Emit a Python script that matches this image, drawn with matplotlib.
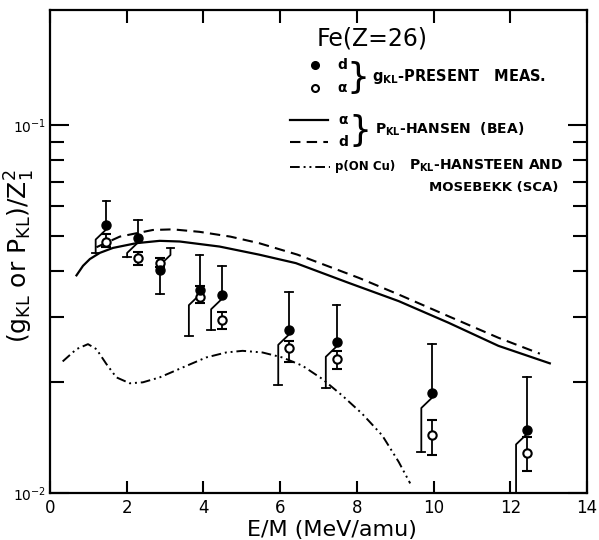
import numpy as np
import matplotlib
matplotlib.use("Agg")
import matplotlib.pyplot as plt
from matplotlib.ticker import FixedLocator, NullFormatter

plt.rcParams["font.family"] = ["DejaVu Sans"]
plt.rcParams["mathtext.default"] = "regular"

# measured g_KL, deuterons (filled) and alphas (open)
x_meas = [1.47, 2.29, 2.86, 3.90, 4.48, 6.23, 7.47, 9.96, 12.43]
d_val = [0.0535, 0.0492, 0.0404, 0.0355, 0.0346, 0.0277, 0.0257, 0.01866, 0.01486]
d_up = [0.0622, 0.0552, 0.0462, 0.0444, 0.0413, 0.0352, 0.0324, 0.02546, 0.0206]
d_low = [0.0448, 0.0437, 0.0348, 0.0267, 0.0277, 0.01967, 0.0193, 0.01293, 0.0095]
d_bent = ["low", "low", "up", "low", "low", "low", "low", "low", "low"]

a_val = [0.0482, 0.0435, 0.0421, 0.0341, 0.02945, 0.0247, 0.0231, 0.01434, 0.01285]
a_up = [0.0505, 0.0450, 0.0435, 0.0365, 0.0311, 0.0259, 0.0243, 0.0158, 0.0142]
a_low = [0.0467, 0.0417, 0.0410, 0.0329, 0.0279, 0.0227, 0.0217, 0.01266, 0.01149]

# Hansen BEA, alpha (solid)
x_bea_a = [0.69, 0.86, 1.04, 1.30, 1.64, 2.25, 2.86, 3.38, 4.42, 5.45, 6.41, 7.79, 9.09,
           10.39, 11.69, 13.03]
y_bea_a = [0.0390, 0.0414, 0.0432, 0.0449, 0.0463, 0.0477, 0.0484, 0.0482, 0.0467, 0.0444,
           0.0421, 0.0372, 0.0332, 0.0290, 0.0251, 0.0225]

# Hansen BEA, deuteron (dashed)
x_bea_d = [1.21, 1.82, 2.68, 3.20, 3.90, 4.70, 5.45, 6.45, 8.05, 9.09, 10.39, 11.69, 12.77]
y_bea_d = [0.0465, 0.0497, 0.0518, 0.0520, 0.0512, 0.0497, 0.0477, 0.0444, 0.0384, 0.0346,
           0.0302, 0.0264, 0.0239]

# Hansteen and Mosebekk SCA, p on Cu
x_sca = [0.33, 0.69, 0.99, 1.21, 1.47, 1.73, 2.08, 2.42, 2.86, 3.46, 4.07, 4.59, 5.02, 5.54,
         6.06, 6.58, 7.10, 7.62, 8.14, 8.66, 9.09, 9.39]
y_sca = [0.02277, 0.02459, 0.02537, 0.02459, 0.02240, 0.02061, 0.01986, 0.01998, 0.02061,
         0.02193, 0.02334, 0.02408, 0.02433, 0.02408, 0.02334, 0.02217, 0.02040, 0.01839,
         0.01641, 0.01434, 0.01215, 0.01062]

x_ticks = [0, 2, 4, 6, 8, 10, 12, 14]

SOLID = dict(color="black", lw=1.6)
DASHED = dict(color="black", lw=1.5, dashes=(5, 3))
DASHDOT = dict(color="black", lw=1.4, dashes=(5, 2, 1, 2, 1, 2))

fig = plt.figure(figsize=(5.99, 5.40), dpi=100)
ax = fig.add_axes([0.0835, 0.087, 0.8965, 0.8945])
ax.set_yscale("log")
ax.set_xlim(0, 14)
ax.set_ylim(0.01, 0.205)

ax.plot(x_bea_a, y_bea_a, **SOLID)
ax.plot(x_bea_d, y_bea_d, **DASHED)
ax.plot(x_sca, y_sca, **DASHDOT)

# bent error bars, as in the original figure
shift = 0.28
k1, k2 = 10 ** -0.012, 10 ** -0.04
cap = 0.1
for x, y, hi, lo, side in zip(x_meas, d_val, d_up, d_low, d_bent):
    if side == "low":
        ax.plot([x, x], [y, hi], color="black", lw=1.3)
        ax.plot([x - cap, x + cap], [hi, hi], color="black", lw=1.3)
        xs = x - shift
        ax.plot([x, x, xs, xs], [y, y * k1, y * k2, lo], color="black", lw=1.3)
        ax.plot([xs - cap, xs + cap], [lo, lo], color="black", lw=1.3)
    else:
        ax.plot([x, x], [y, lo], color="black", lw=1.3)
        ax.plot([x - cap, x + cap], [lo, lo], color="black", lw=1.3)
        xs = x + shift
        ax.plot([x, x, xs, xs], [y, y / k1, y / k2, hi], color="black", lw=1.3)
        ax.plot([xs - cap, xs + cap], [hi, hi], color="black", lw=1.3)

a_err = [np.subtract(a_val, a_low), np.subtract(a_up, a_val)]
ax.errorbar(x_meas, a_val, yerr=a_err, fmt="o", mfc="white", mec="black", mew=1.5,
            ms=6, ecolor="black", elinewidth=1.3, capsize=3.5, capthick=1.3, zorder=4)
ax.plot(x_meas, d_val, "o", color="black", ms=6.5, zorder=5)

# axes styling
for s in ax.spines.values():
    s.set_linewidth(1.6)
ax.xaxis.set_major_locator(FixedLocator(x_ticks))
ax.set_xticklabels([str(t) for t in x_ticks], fontsize=12)
ax.tick_params(axis="x", which="major", direction="in", length=9, width=1.5, top=True, pad=4)
ax.yaxis.set_major_locator(FixedLocator([0.01, 0.1]))
ax.set_yticklabels(["10$^{-2}$", "10$^{-1}$"], fontsize=10)
ax.yaxis.set_minor_locator(FixedLocator([k * 0.01 for k in range(2, 10)]))
ax.yaxis.set_minor_formatter(NullFormatter())
ax.tick_params(axis="y", which="major", direction="in", length=14, width=1.5, right=True, pad=3)
ax.tick_params(axis="y", which="minor", direction="in", length=10, width=1.5, right=True)

ax.set_xlabel("E/M (MeV/amu)", fontsize=16, va="center")
ax.xaxis.set_label_coords(0.525, -0.077)
ax.set_ylabel("(g$_{KL}$ or P$_{KL}$)/Z$_1^2$", fontsize=18, va="center")
ax.yaxis.set_label_coords(-0.056, 0.49)

# legend drawn inside the panel
tr = ax.transAxes
BOLD = dict(transform=tr, fontsize=10, fontweight="bold", va="center")
ax.text(0.600, 0.942, "Fe(Z=26)", transform=tr, fontsize=17, ha="center", va="center")
ax.plot([0.4935], [0.886], "o", color="black", ms=5.5, transform=tr)
ax.plot([0.4935], [0.8385], "o", mfc="white", mec="black", mew=1.5, ms=5, transform=tr)
ax.text(0.544, 0.886, "d", ha="center", **BOLD)
ax.text(0.544, 0.8385, "α", ha="center", **BOLD)
ax.text(0.5735, 0.859, "}", transform=tr, fontsize=26, ha="center", va="center")
ax.text(0.5996, 0.862, "g$_{KL}$-PRESENT   MEAS.", transform=tr, fontsize=10.5,
        fontweight="bold", ha="left", va="center")

ax.plot([0.447, 0.518], [0.772, 0.772], transform=tr, **SOLID)
ax.plot([0.447, 0.518], [0.727, 0.727], transform=tr, **DASHED)
ax.text(0.546, 0.772, "α", ha="center", **BOLD)
ax.text(0.546, 0.727, "d", ha="center", **BOLD)
ax.text(0.577, 0.749, "}", transform=tr, fontsize=26, ha="center", va="center")
ax.text(0.605, 0.752, "P$_{KL}$-HANSEN  (BEA)", ha="left", **BOLD)

ax.plot([0.447, 0.521], [0.675, 0.675], transform=tr, **DASHDOT)
ax.text(0.531, 0.675, "p(ON Cu)", transform=tr, fontsize=8.5, fontweight="bold",
        ha="left", va="center")
ax.text(0.955, 0.678, "P$_{KL}$-HANSTEEN AND", ha="right", **BOLD)
ax.text(0.946, 0.6335, "MOSEBEKK (SCA)", transform=tr, fontsize=9.5, fontweight="bold",
        ha="right", va="center")

fig.savefig("out.png", dpi=100)
